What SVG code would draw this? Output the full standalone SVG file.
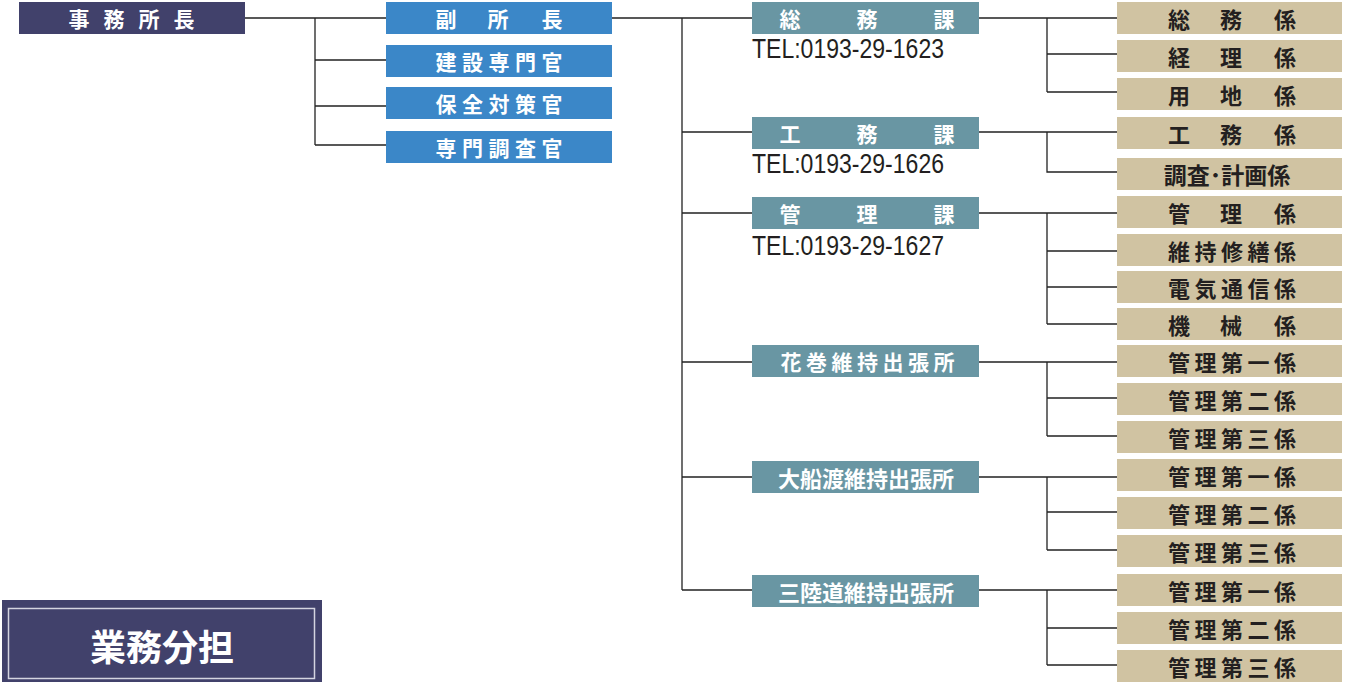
<svg xmlns="http://www.w3.org/2000/svg" width="1363" height="682" viewBox="0 0 1363 682">
<style>
.top{fill:#41416b}
.vice{fill:#3b87c8}
.ka{fill:#6996a3}
.kakari{fill:#d0c3a2}
.wt{fill:#ffffff;font-family:"Noto Sans CJK JP",sans-serif;font-weight:bold;font-size:21px;text-anchor:middle;dominant-baseline:central}
.bk{fill:#231f20;font-family:"Noto Sans CJK JP",sans-serif;font-weight:bold;font-size:22px;text-anchor:middle;dominant-baseline:central}
.tel{fill:#231f20;font-family:"Liberation Sans",Arial,sans-serif;font-size:27px}
.ln{fill:none;stroke:#222;stroke-width:1.3}
</style>
<rect width="1363" height="682" fill="#ffffff"/>
<g id="connectors" class="ln">
<path d="M245 18H386M315 18V145M315 60H386M315 106H386M315 145H386"/>
<path d="M612 18H752M682 18V590M682 132H752M682 213H752M682 362H752M682 477H752M682 590H752"/>
<path d="M979 18H1117M1047 18V92M1047 54H1117M1047 92H1117"/>
<path d="M979 132H1117M1047 132V172H1117"/>
<path d="M979 213H1117M1047 213V324M1047 251H1117M1047 287H1117M1047 324H1117"/>
<path d="M979 362H1117M1047 362V436M1047 398H1117M1047 436H1117"/>
<path d="M979 477H1117M1047 477V550M1047 512H1117M1047 550H1117"/>
<path d="M979 590H1117M1047 590V665M1047 628H1117M1047 665H1117"/>
</g>
<g id="jimushocho"><rect class="top" x="19" y="2" width="226" height="32"/><text class="wt" y="17.5" x="79 114 149 184">事務所長</text></g>
<g id="fukushocho"><rect class="vice" x="386" y="2" width="226" height="32"/><text class="wt" y="17.5" x="446 498 552">副所長</text></g>
<g id="kensetsu"><rect class="vice" x="386" y="45" width="226" height="32"/><text class="wt" y="60.5" x="446 472.5 499 525.5 552">建設専門官</text></g>
<g id="hozen"><rect class="vice" x="386" y="87" width="226" height="32"/><text class="wt" y="102.5" x="446 472.5 499 525.5 552">保全対策官</text></g>
<g id="chosa"><rect class="vice" x="386" y="131" width="226" height="32"/><text class="wt" y="146.5" x="446 472.5 499 525.5 552">専門調査官</text></g>

<g id="somuka"><rect class="ka" x="752" y="2" width="227" height="32"/><text class="wt" y="17.5" x="790 867 944">総務課</text><text class="tel" x="752" y="58" textLength="192" lengthAdjust="spacingAndGlyphs">TEL:0193-29-1623</text></g>
<g id="komuka"><rect class="ka" x="752" y="117" width="227" height="32"/><text class="wt" y="132.5" x="790 867 944">工務課</text><text class="tel" x="752" y="173" textLength="192" lengthAdjust="spacingAndGlyphs">TEL:0193-29-1626</text></g>
<g id="kanrika"><rect class="ka" x="752" y="197" width="227" height="32"/><text class="wt" y="212.5" x="790 867 944">管理課</text><text class="tel" x="752" y="255" textLength="192" lengthAdjust="spacingAndGlyphs">TEL:0193-29-1627</text></g>
<g id="hanamaki"><rect class="ka" x="752" y="345" width="227" height="32"/><text class="wt" y="360.5" x="791 816.5 842 867.5 893 918.5 944">花巻維持出張所</text></g>
<g id="ofunato"><rect class="ka" x="752" y="461" width="227" height="32"/><text class="wt" style="font-size:22px" y="476.5" x="866">大船渡維持出張所</text></g>
<g id="sanrikudo"><rect class="ka" x="752" y="575" width="227" height="32"/><text class="wt" style="font-size:22px" y="590.5" x="866">三陸道維持出張所</text></g>

<g id="k-somu"><rect class="kakari" x="1117" y="2" width="225" height="32"/><text class="bk" y="17.5" x="1179 1231 1285">総務係</text></g>
<g id="k-keiri"><rect class="kakari" x="1117" y="40" width="225" height="32"/><text class="bk" y="55.5" x="1179 1231 1285">経理係</text></g>
<g id="k-yochi"><rect class="kakari" x="1117" y="78" width="225" height="32"/><text class="bk" y="93.5" x="1179 1231 1285">用地係</text></g>
<g id="k-komu"><rect class="kakari" x="1117" y="117" width="225" height="32"/><text class="bk" y="132.5" x="1179 1231 1285">工務係</text></g>
<g id="k-chosa"><rect class="kakari" x="1117" y="158" width="225" height="32"/><text class="bk" style="font-size:23px" y="173.5" x="1227">調査･計画係</text></g>
<g id="k-kanri"><rect class="kakari" x="1117" y="196" width="225" height="32"/><text class="bk" y="211.5" x="1179 1231 1285">管理係</text></g>
<g id="k-iji"><rect class="kakari" x="1117" y="234" width="225" height="32"/><text class="bk" y="249.5" x="1179 1205.5 1232 1258.5 1285">維持修繕係</text></g>
<g id="k-denki"><rect class="kakari" x="1117" y="271" width="225" height="32"/><text class="bk" y="286.5" x="1179 1205.5 1232 1258.5 1285">電気通信係</text></g>
<g id="k-kikai"><rect class="kakari" x="1117" y="308" width="225" height="32"/><text class="bk" y="323.5" x="1179 1231 1285">機械係</text></g>
<g id="h-1"><rect class="kakari" x="1117" y="345" width="225" height="32"/><text class="bk" y="360.5" x="1179 1205.5 1232 1258.5 1285">管理第一係</text></g>
<g id="h-2"><rect class="kakari" x="1117" y="383" width="225" height="32"/><text class="bk" y="398.5" x="1179 1205.5 1232 1258.5 1285">管理第二係</text></g>
<g id="h-3"><rect class="kakari" x="1117" y="421" width="225" height="32"/><text class="bk" y="436.5" x="1179 1205.5 1232 1258.5 1285">管理第三係</text></g>
<g id="o-1"><rect class="kakari" x="1117" y="459" width="225" height="32"/><text class="bk" y="474.5" x="1179 1205.5 1232 1258.5 1285">管理第一係</text></g>
<g id="o-2"><rect class="kakari" x="1117" y="497" width="225" height="32"/><text class="bk" y="512.5" x="1179 1205.5 1232 1258.5 1285">管理第二係</text></g>
<g id="o-3"><rect class="kakari" x="1117" y="535" width="225" height="32"/><text class="bk" y="550.5" x="1179 1205.5 1232 1258.5 1285">管理第三係</text></g>
<g id="s-1"><rect class="kakari" x="1117" y="574" width="225" height="32"/><text class="bk" y="589.5" x="1179 1205.5 1232 1258.5 1285">管理第一係</text></g>
<g id="s-2"><rect class="kakari" x="1117" y="612" width="225" height="32"/><text class="bk" y="627.5" x="1179 1205.5 1232 1258.5 1285">管理第二係</text></g>
<g id="s-3"><rect class="kakari" x="1117" y="650" width="225" height="32"/><text class="bk" y="665.5" x="1179 1205.5 1232 1258.5 1285">管理第三係</text></g>

<g id="gyomu-buntan"><rect class="top" x="2" y="600" width="320" height="82"/><rect x="8.5" y="608.5" width="306" height="70" fill="none" stroke="#d4d4e0" stroke-width="1.5"/><text class="wt" style="font-size:36px" x="162" y="645">業務分担</text></g>
</svg>
